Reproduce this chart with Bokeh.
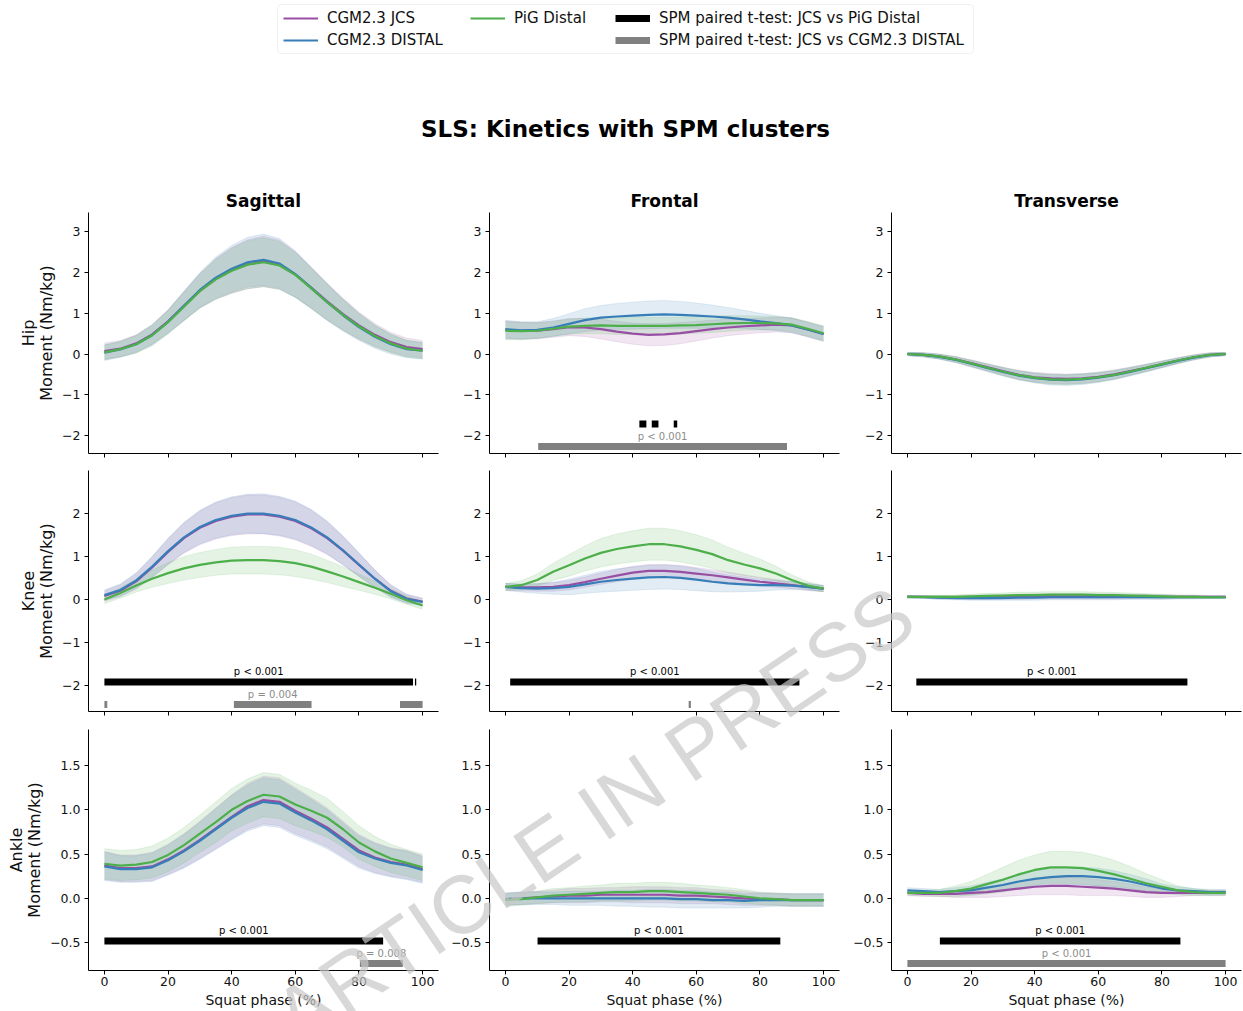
import numpy as np
from bokeh.plotting import figure
from bokeh.layouts import column, row
from bokeh.models import Legend, LegendItem, Label, FixedTicker, Range1d, ColumnDataSource, BoxAnnotation, Div
from bokeh.embed import file_html
from bokeh.resources import INLINE
from bokeh.core.properties import value

# ---------------------------------------------------------------- data
PHASE = [0, 5, 10, 15, 20, 25, 30, 35, 40, 45, 50, 55, 60, 65, 70, 75, 80, 85, 90, 95, 100]

SERIES_NAMES = ["CGM2.3 JCS", "CGM2.3 DISTAL", "PiG Distal"]
SPM_NAMES = ["SPM paired t-test: JCS vs PiG Distal", "SPM paired t-test: JCS vs CGM2.3 DISTAL"]
COLUMN_TITLES = ["Sagittal", "Frontal", "Transverse"]
ROW_LABELS = ["Hip\nMoment (Nm/kg)", "Knee\nMoment (Nm/kg)", "Ankle\nMoment (Nm/kg)"]
SUPTITLE = "SLS: Kinetics with SPM clusters"
X_LABEL = "Squat phase (%)"
X_TICKS = [0, 20, 40, 60, 80, 100]
HIP_Y_TICKS = [-2, -1, 0, 1, 2, 3]
KNEE_Y_TICKS = [-2, -1, 0, 1, 2]
ANKLE_Y_TICKS = [-0.5, 0.0, 0.5, 1.0, 1.5]
HIP_Y_LIMITS = (-2.44, 3.47)
KNEE_Y_LIMITS = (-2.60, 2.99)
ANKLE_Y_LIMITS = (-0.816, 1.907)

# Hip sagittal
HIP_SAG_JCS = [0.07, 0.13, 0.26, 0.48, 0.80, 1.18, 1.55, 1.84, 2.05, 2.20, 2.27, 2.19, 1.95, 1.63, 1.29, 0.98, 0.70, 0.47, 0.29, 0.17, 0.12]
HIP_SAG_DIS = [0.03, 0.11, 0.24, 0.46, 0.79, 1.18, 1.57, 1.87, 2.09, 2.25, 2.31, 2.22, 1.96, 1.62, 1.27, 0.95, 0.66, 0.42, 0.24, 0.12, 0.08]
HIP_SAG_PIG = [0.04, 0.12, 0.24, 0.46, 0.78, 1.16, 1.54, 1.83, 2.04, 2.19, 2.25, 2.17, 1.94, 1.61, 1.27, 0.96, 0.68, 0.44, 0.26, 0.13, 0.08]
HIP_SAG_JCS_SD = [0.20, 0.20, 0.21, 0.24, 0.28, 0.35, 0.42, 0.50, 0.56, 0.60, 0.62, 0.60, 0.56, 0.50, 0.45, 0.39, 0.33, 0.28, 0.24, 0.22, 0.21]
HIP_SAG_DIS_SD = [0.19, 0.19, 0.21, 0.24, 0.29, 0.36, 0.43, 0.51, 0.57, 0.61, 0.63, 0.61, 0.57, 0.51, 0.45, 0.39, 0.33, 0.28, 0.24, 0.21, 0.20]
HIP_SAG_PIG_SD = [0.18, 0.19, 0.22, 0.26, 0.29, 0.35, 0.42, 0.49, 0.55, 0.59, 0.60, 0.59, 0.55, 0.49, 0.44, 0.38, 0.32, 0.27, 0.23, 0.21, 0.20]

# Hip frontal
HIP_FRO_JCS = [0.59, 0.57, 0.57, 0.61, 0.66, 0.65, 0.61, 0.55, 0.50, 0.47, 0.48, 0.51, 0.56, 0.61, 0.65, 0.68, 0.70, 0.72, 0.70, 0.60, 0.49]
HIP_FRO_DIS = [0.61, 0.58, 0.59, 0.65, 0.74, 0.83, 0.89, 0.92, 0.94, 0.96, 0.97, 0.96, 0.94, 0.92, 0.89, 0.85, 0.80, 0.76, 0.70, 0.60, 0.49]
HIP_FRO_PIG = [0.57, 0.56, 0.57, 0.62, 0.67, 0.69, 0.70, 0.69, 0.69, 0.69, 0.69, 0.70, 0.71, 0.73, 0.75, 0.76, 0.76, 0.75, 0.72, 0.62, 0.51]
HIP_FRO_JCS_SD = [0.22, 0.21, 0.20, 0.20, 0.21, 0.22, 0.24, 0.25, 0.26, 0.27, 0.27, 0.26, 0.24, 0.22, 0.20, 0.19, 0.18, 0.18, 0.18, 0.18, 0.18]
HIP_FRO_DIS_SD = [0.22, 0.21, 0.20, 0.22, 0.25, 0.28, 0.30, 0.32, 0.33, 0.34, 0.34, 0.33, 0.31, 0.28, 0.25, 0.22, 0.20, 0.18, 0.18, 0.18, 0.18]
HIP_FRO_PIG_SD = [0.22, 0.21, 0.19, 0.18, 0.18, 0.19, 0.20, 0.21, 0.21, 0.21, 0.21, 0.21, 0.20, 0.20, 0.19, 0.18, 0.17, 0.17, 0.17, 0.18, 0.18]

# Hip transverse
HIP_TRA_JCS = [0.00, -0.02, -0.06, -0.13, -0.22, -0.32, -0.42, -0.51, -0.57, -0.60, -0.61, -0.60, -0.56, -0.50, -0.42, -0.34, -0.25, -0.16, -0.08, -0.02, 0.00]
HIP_TRA_DIS = [0.00, -0.02, -0.07, -0.14, -0.24, -0.34, -0.44, -0.53, -0.59, -0.63, -0.64, -0.62, -0.58, -0.52, -0.44, -0.35, -0.26, -0.17, -0.09, -0.03, 0.00]
HIP_TRA_PIG = [0.00, -0.02, -0.06, -0.13, -0.23, -0.33, -0.43, -0.52, -0.58, -0.62, -0.63, -0.61, -0.57, -0.51, -0.43, -0.34, -0.25, -0.16, -0.08, -0.02, 0.00]
HIP_TRA_JCS_SD = [0.04, 0.05, 0.06, 0.07, 0.08, 0.09, 0.10, 0.11, 0.12, 0.12, 0.12, 0.12, 0.12, 0.11, 0.10, 0.09, 0.08, 0.07, 0.06, 0.05, 0.04]
HIP_TRA_DIS_SD = [0.04, 0.05, 0.06, 0.07, 0.08, 0.09, 0.10, 0.11, 0.12, 0.13, 0.13, 0.13, 0.12, 0.11, 0.10, 0.09, 0.08, 0.07, 0.06, 0.05, 0.04]
HIP_TRA_PIG_SD = [0.04, 0.05, 0.06, 0.07, 0.08, 0.09, 0.10, 0.11, 0.11, 0.12, 0.12, 0.12, 0.11, 0.11, 0.10, 0.09, 0.08, 0.07, 0.06, 0.05, 0.04]

# Knee sagittal
KNEE_SAG_JCS = [0.08, 0.20, 0.42, 0.74, 1.10, 1.42, 1.66, 1.82, 1.92, 1.97, 1.97, 1.92, 1.82, 1.65, 1.42, 1.13, 0.80, 0.48, 0.20, 0.02, -0.05]
KNEE_SAG_DIS = [0.10, 0.22, 0.44, 0.76, 1.12, 1.44, 1.68, 1.84, 1.94, 1.99, 1.99, 1.94, 1.84, 1.67, 1.44, 1.14, 0.81, 0.48, 0.19, 0.01, -0.06]
KNEE_SAG_PIG = [0.00, 0.15, 0.32, 0.48, 0.61, 0.72, 0.80, 0.86, 0.90, 0.91, 0.91, 0.89, 0.84, 0.76, 0.65, 0.53, 0.40, 0.27, 0.13, -0.02, -0.14]
KNEE_SAG_JCS_SD = [0.12, 0.14, 0.18, 0.24, 0.30, 0.35, 0.39, 0.42, 0.44, 0.45, 0.45, 0.45, 0.44, 0.42, 0.38, 0.33, 0.27, 0.20, 0.14, 0.10, 0.08]
KNEE_SAG_DIS_SD = [0.12, 0.14, 0.18, 0.24, 0.30, 0.35, 0.39, 0.42, 0.44, 0.45, 0.46, 0.45, 0.44, 0.42, 0.38, 0.33, 0.27, 0.20, 0.14, 0.10, 0.08]
KNEE_SAG_PIG_SD = [0.10, 0.12, 0.15, 0.20, 0.24, 0.27, 0.29, 0.30, 0.31, 0.32, 0.32, 0.32, 0.31, 0.29, 0.26, 0.23, 0.19, 0.15, 0.12, 0.10, 0.09]

# Knee frontal
KNEE_FRO_JCS = [0.29, 0.28, 0.28, 0.29, 0.33, 0.40, 0.48, 0.55, 0.62, 0.66, 0.66, 0.64, 0.60, 0.56, 0.51, 0.46, 0.41, 0.37, 0.33, 0.29, 0.25]
KNEE_FRO_DIS = [0.29, 0.26, 0.25, 0.26, 0.29, 0.35, 0.41, 0.45, 0.48, 0.51, 0.52, 0.50, 0.46, 0.41, 0.37, 0.35, 0.33, 0.33, 0.32, 0.29, 0.25]
KNEE_FRO_PIG = [0.29, 0.33, 0.45, 0.64, 0.79, 0.95, 1.08, 1.17, 1.23, 1.28, 1.28, 1.23, 1.15, 1.05, 0.91, 0.81, 0.72, 0.60, 0.45, 0.32, 0.25]
KNEE_FRO_JCS_SD = [0.08, 0.08, 0.09, 0.10, 0.11, 0.12, 0.13, 0.14, 0.15, 0.15, 0.15, 0.15, 0.14, 0.13, 0.12, 0.11, 0.10, 0.09, 0.08, 0.08, 0.07]
KNEE_FRO_DIS_SD = [0.08, 0.09, 0.11, 0.14, 0.18, 0.21, 0.24, 0.26, 0.27, 0.28, 0.28, 0.27, 0.26, 0.23, 0.20, 0.17, 0.14, 0.11, 0.09, 0.08, 0.07]
KNEE_FRO_PIG_SD = [0.08, 0.10, 0.14, 0.20, 0.25, 0.29, 0.33, 0.35, 0.36, 0.37, 0.37, 0.36, 0.35, 0.33, 0.30, 0.26, 0.22, 0.17, 0.12, 0.09, 0.07]

# Knee transverse
KNEE_TRA_JCS = [0.06, 0.06, 0.05, 0.05, 0.05, 0.05, 0.06, 0.06, 0.07, 0.07, 0.07, 0.07, 0.07, 0.07, 0.07, 0.07, 0.06, 0.06, 0.06, 0.06, 0.06]
KNEE_TRA_DIS = [0.06, 0.05, 0.04, 0.03, 0.03, 0.03, 0.03, 0.04, 0.04, 0.05, 0.05, 0.05, 0.05, 0.05, 0.05, 0.05, 0.05, 0.05, 0.05, 0.05, 0.05]
KNEE_TRA_PIG = [0.06, 0.06, 0.06, 0.06, 0.07, 0.08, 0.09, 0.10, 0.10, 0.11, 0.11, 0.11, 0.10, 0.10, 0.09, 0.08, 0.07, 0.06, 0.06, 0.05, 0.05]
KNEE_TRA_JCS_SD = [0.03, 0.03, 0.04, 0.04, 0.05, 0.05, 0.05, 0.06, 0.06, 0.06, 0.06, 0.06, 0.06, 0.06, 0.05, 0.05, 0.05, 0.04, 0.04, 0.03, 0.03]
KNEE_TRA_DIS_SD = [0.03, 0.03, 0.04, 0.04, 0.05, 0.05, 0.05, 0.06, 0.06, 0.06, 0.06, 0.06, 0.06, 0.06, 0.05, 0.05, 0.05, 0.04, 0.04, 0.03, 0.03]
KNEE_TRA_PIG_SD = [0.03, 0.03, 0.04, 0.04, 0.05, 0.06, 0.06, 0.07, 0.07, 0.07, 0.07, 0.07, 0.07, 0.06, 0.06, 0.05, 0.05, 0.04, 0.04, 0.03, 0.03]

# Ankle sagittal
ANK_SAG_JCS = [0.37, 0.34, 0.34, 0.36, 0.44, 0.54, 0.66, 0.79, 0.92, 1.04, 1.11, 1.09, 0.99, 0.90, 0.80, 0.67, 0.54, 0.46, 0.41, 0.38, 0.33]
ANK_SAG_DIS = [0.36, 0.33, 0.33, 0.35, 0.43, 0.53, 0.65, 0.78, 0.91, 1.02, 1.09, 1.07, 0.97, 0.88, 0.78, 0.65, 0.52, 0.45, 0.40, 0.37, 0.32]
ANK_SAG_PIG = [0.39, 0.37, 0.38, 0.41, 0.49, 0.60, 0.73, 0.86, 1.00, 1.10, 1.17, 1.15, 1.06, 0.99, 0.91, 0.78, 0.63, 0.53, 0.45, 0.40, 0.35]
ANK_SAG_JCS_SD = [0.16, 0.15, 0.15, 0.16, 0.17, 0.19, 0.21, 0.23, 0.25, 0.26, 0.27, 0.27, 0.26, 0.24, 0.22, 0.20, 0.18, 0.17, 0.16, 0.16, 0.15]
ANK_SAG_DIS_SD = [0.16, 0.15, 0.15, 0.16, 0.17, 0.19, 0.21, 0.23, 0.25, 0.26, 0.27, 0.27, 0.26, 0.24, 0.22, 0.20, 0.18, 0.17, 0.16, 0.16, 0.15]
ANK_SAG_PIG_SD = [0.17, 0.17, 0.17, 0.18, 0.19, 0.20, 0.21, 0.23, 0.24, 0.25, 0.25, 0.25, 0.24, 0.23, 0.22, 0.20, 0.19, 0.17, 0.16, 0.15, 0.15]

# Ankle frontal
ANK_FRO_JCS = [-0.01, 0.00, 0.01, 0.02, 0.03, 0.03, 0.04, 0.04, 0.04, 0.04, 0.04, 0.03, 0.03, 0.02, 0.01, 0.00, -0.01, -0.01, -0.02, -0.02, -0.02]
ANK_FRO_DIS = [-0.01, 0.00, 0.00, 0.00, 0.00, 0.00, 0.00, 0.00, 0.00, 0.00, 0.00, -0.01, -0.01, -0.02, -0.02, -0.03, -0.02, -0.02, -0.02, -0.02, -0.02]
ANK_FRO_PIG = [-0.02, -0.01, 0.01, 0.03, 0.04, 0.05, 0.06, 0.07, 0.07, 0.08, 0.08, 0.07, 0.06, 0.05, 0.04, 0.02, 0.00, -0.01, -0.02, -0.02, -0.02]
ANK_FRO_JCS_SD = [0.07, 0.07, 0.07, 0.07, 0.08, 0.08, 0.08, 0.08, 0.09, 0.09, 0.09, 0.09, 0.09, 0.08, 0.08, 0.08, 0.07, 0.07, 0.07, 0.07, 0.07]
ANK_FRO_DIS_SD = [0.07, 0.07, 0.07, 0.07, 0.08, 0.08, 0.08, 0.09, 0.09, 0.10, 0.10, 0.10, 0.10, 0.09, 0.09, 0.08, 0.08, 0.07, 0.07, 0.07, 0.07]
ANK_FRO_PIG_SD = [0.07, 0.07, 0.07, 0.08, 0.08, 0.09, 0.09, 0.10, 0.10, 0.10, 0.10, 0.10, 0.09, 0.09, 0.08, 0.08, 0.07, 0.07, 0.07, 0.07, 0.07]

# Ankle transverse
ANK_TRA_JCS = [0.06, 0.05, 0.05, 0.05, 0.06, 0.07, 0.09, 0.11, 0.13, 0.14, 0.14, 0.13, 0.12, 0.11, 0.09, 0.07, 0.06, 0.06, 0.06, 0.06, 0.06]
ANK_TRA_DIS = [0.09, 0.08, 0.07, 0.08, 0.09, 0.12, 0.15, 0.19, 0.22, 0.24, 0.25, 0.25, 0.24, 0.22, 0.19, 0.15, 0.11, 0.09, 0.08, 0.07, 0.07]
ANK_TRA_PIG = [0.06, 0.06, 0.06, 0.08, 0.11, 0.16, 0.21, 0.27, 0.32, 0.35, 0.35, 0.34, 0.31, 0.27, 0.22, 0.17, 0.13, 0.09, 0.07, 0.06, 0.06]
ANK_TRA_JCS_SD = [0.03, 0.03, 0.03, 0.04, 0.05, 0.06, 0.07, 0.08, 0.09, 0.10, 0.10, 0.10, 0.09, 0.08, 0.07, 0.06, 0.05, 0.04, 0.03, 0.03, 0.03]
ANK_TRA_DIS_SD = [0.03, 0.03, 0.03, 0.04, 0.05, 0.06, 0.07, 0.08, 0.09, 0.10, 0.10, 0.10, 0.10, 0.09, 0.08, 0.07, 0.05, 0.04, 0.03, 0.03, 0.03]
ANK_TRA_PIG_SD = [0.03, 0.03, 0.04, 0.06, 0.08, 0.11, 0.14, 0.16, 0.17, 0.18, 0.18, 0.18, 0.17, 0.16, 0.14, 0.11, 0.08, 0.05, 0.04, 0.03, 0.03]

# SPM clusters (start %, end %) ; label = (text, index of labelled cluster)
HIP_SAG_BLACK, HIP_SAG_BLACK_P = [], None
HIP_SAG_GRAY, HIP_SAG_GRAY_P = [], None
HIP_FRO_BLACK, HIP_FRO_BLACK_P = [(42.1, 44.3), (46.0, 48.1), (52.9, 54.0)], None
HIP_FRO_GRAY, HIP_FRO_GRAY_P = [(10.3, 88.5)], ("p < 0.001", 0)
HIP_TRA_BLACK, HIP_TRA_BLACK_P = [], None
HIP_TRA_GRAY, HIP_TRA_GRAY_P = [], None
KNEE_SAG_BLACK, KNEE_SAG_BLACK_P = [(0.0, 97.0), (97.6, 98.0)], ("p < 0.001", 0)
KNEE_SAG_GRAY, KNEE_SAG_GRAY_P = [(0.0, 0.9), (40.7, 65.1), (92.9, 100.0)], ("p = 0.004", 1)
KNEE_FRO_BLACK, KNEE_FRO_BLACK_P = [(1.5, 92.4)], ("p < 0.001", 0)
KNEE_FRO_GRAY, KNEE_FRO_GRAY_P = [(57.6, 58.3)], None
KNEE_TRA_BLACK, KNEE_TRA_BLACK_P = [(2.8, 88.0)], ("p < 0.001", 0)
KNEE_TRA_GRAY, KNEE_TRA_GRAY_P = [], None
ANK_SAG_BLACK, ANK_SAG_BLACK_P = [(0.0, 87.6)], ("p < 0.001", 0)
ANK_SAG_GRAY, ANK_SAG_GRAY_P = [(80.3, 93.8)], ("p = 0.008", 0)
ANK_FRO_BLACK, ANK_FRO_BLACK_P = [(10.1, 86.4)], ("p < 0.001", 0)
ANK_FRO_GRAY, ANK_FRO_GRAY_P = [], None
ANK_TRA_BLACK, ANK_TRA_BLACK_P = [(10.2, 85.8)], ("p < 0.001", 0)
ANK_TRA_GRAY, ANK_TRA_GRAY_P = [(0.0, 100.0)], ("p < 0.001", 0)

WATERMARK = "ARTICLE IN PRESS"

# ---------------------------------------------------------------- style / layout
COLORS = ["#984ea3", "#377eb8", "#4daf4a"]
SPM_COLORS = ["#000000", "#808080"]
FONT = "DejaVu Sans"

FRAME_W, FRAME_H = 350, 241
COL_BL = [88, 43, 43]
COL_BR = [8, 9, 2]
ROW_BT = [32, 9, 9]
ROW_BB = [8, 9, 40]
HEADER_H = 180
PAGE_W = 1243

panels = [
    [(HIP_SAG_JCS, HIP_SAG_DIS, HIP_SAG_PIG), (HIP_SAG_JCS_SD, HIP_SAG_DIS_SD, HIP_SAG_PIG_SD), HIP_SAG_BLACK, HIP_SAG_BLACK_P, HIP_SAG_GRAY, HIP_SAG_GRAY_P],
    [(HIP_FRO_JCS, HIP_FRO_DIS, HIP_FRO_PIG), (HIP_FRO_JCS_SD, HIP_FRO_DIS_SD, HIP_FRO_PIG_SD), HIP_FRO_BLACK, HIP_FRO_BLACK_P, HIP_FRO_GRAY, HIP_FRO_GRAY_P],
    [(HIP_TRA_JCS, HIP_TRA_DIS, HIP_TRA_PIG), (HIP_TRA_JCS_SD, HIP_TRA_DIS_SD, HIP_TRA_PIG_SD), HIP_TRA_BLACK, HIP_TRA_BLACK_P, HIP_TRA_GRAY, HIP_TRA_GRAY_P],
    [(KNEE_SAG_JCS, KNEE_SAG_DIS, KNEE_SAG_PIG), (KNEE_SAG_JCS_SD, KNEE_SAG_DIS_SD, KNEE_SAG_PIG_SD), KNEE_SAG_BLACK, KNEE_SAG_BLACK_P, KNEE_SAG_GRAY, KNEE_SAG_GRAY_P],
    [(KNEE_FRO_JCS, KNEE_FRO_DIS, KNEE_FRO_PIG), (KNEE_FRO_JCS_SD, KNEE_FRO_DIS_SD, KNEE_FRO_PIG_SD), KNEE_FRO_BLACK, KNEE_FRO_BLACK_P, KNEE_FRO_GRAY, KNEE_FRO_GRAY_P],
    [(KNEE_TRA_JCS, KNEE_TRA_DIS, KNEE_TRA_PIG), (KNEE_TRA_JCS_SD, KNEE_TRA_DIS_SD, KNEE_TRA_PIG_SD), KNEE_TRA_BLACK, KNEE_TRA_BLACK_P, KNEE_TRA_GRAY, KNEE_TRA_GRAY_P],
    [(ANK_SAG_JCS, ANK_SAG_DIS, ANK_SAG_PIG), (ANK_SAG_JCS_SD, ANK_SAG_DIS_SD, ANK_SAG_PIG_SD), ANK_SAG_BLACK, ANK_SAG_BLACK_P, ANK_SAG_GRAY, ANK_SAG_GRAY_P],
    [(ANK_FRO_JCS, ANK_FRO_DIS, ANK_FRO_PIG), (ANK_FRO_JCS_SD, ANK_FRO_DIS_SD, ANK_FRO_PIG_SD), ANK_FRO_BLACK, ANK_FRO_BLACK_P, ANK_FRO_GRAY, ANK_FRO_GRAY_P],
    [(ANK_TRA_JCS, ANK_TRA_DIS, ANK_TRA_PIG), (ANK_TRA_JCS_SD, ANK_TRA_DIS_SD, ANK_TRA_PIG_SD), ANK_TRA_BLACK, ANK_TRA_BLACK_P, ANK_TRA_GRAY, ANK_TRA_GRAY_P],
]
ROW_TICKS = [HIP_Y_TICKS, KNEE_Y_TICKS, ANKLE_Y_TICKS]
ROW_LIMITS = [HIP_Y_LIMITS, KNEE_Y_LIMITS, ANKLE_Y_LIMITS]


def tick_text(t, decimals):
    s = f"{t:.{decimals}f}"
    return s.replace("-", "\u2212")


def style_axis(ax):
    ax.axis_line_color = "black"
    ax.major_tick_line_color = "black"
    ax.major_tick_out = 4
    ax.major_tick_in = 0
    ax.minor_tick_line_color = None
    ax.major_label_text_font = FONT
    ax.major_label_text_color = "#111111"
    ax.major_label_text_font_size = "12.5px"
    ax.axis_label_text_font = FONT
    ax.axis_label_text_font_style = "normal"
    ax.axis_label_text_color = "#111111"


def make_panel(r, c):
    means, sds, black, black_p, gray, gray_p = panels[r * 3 + c]
    ylo, yhi = ROW_LIMITS[r]
    p = figure(width=COL_BL[c] + FRAME_W + COL_BR[c], height=ROW_BT[r] + FRAME_H + ROW_BB[r],
               min_border_left=COL_BL[c], min_border_right=COL_BR[c],
               min_border_top=ROW_BT[r], min_border_bottom=ROW_BB[r],
               x_range=Range1d(-5, 105), y_range=Range1d(ylo, yhi),
               toolbar_location=None, output_backend="svg")
    p.outline_line_color = None
    p.grid.visible = False
    x = np.array(PHASE, dtype=float)
    for k in range(3):
        m = np.array(means[k]); s = np.array(sds[k])
        p.varea(x=x, y1=m - s, y2=m + s, fill_color=COLORS[k], fill_alpha=0.15)
        p.line(x=x, y=m - s, line_color=COLORS[k], line_alpha=0.12, line_width=1)
        p.line(x=x, y=m + s, line_color=COLORS[k], line_alpha=0.12, line_width=1)
    for k in range(3):
        p.line(x=PHASE, y=means[k], line_color=COLORS[k], line_width=2.2)

    rng = yhi - ylo
    bar_y = [ylo + rng * 29.5 / FRAME_H, ylo + rng * 7.0 / FRAME_H]
    for j, (clusters, plab) in enumerate([(black, black_p), (gray, gray_p)]):
        if clusters:
            src = ColumnDataSource(dict(x0=[a for a, b in clusters], x1=[b for a, b in clusters],
                                        y=[bar_y[j]] * len(clusters)))
            p.segment(x0="x0", x1="x1", y0="y", y1="y", source=src, line_width=7,
                      line_color=SPM_COLORS[j], line_cap="butt")
        if plab:
            a, b = clusters[plab[1]]
            p.text(x=[(a + b) / 2], y=[bar_y[j]], text=[plab[0]], text_align="center",
                   text_baseline="bottom", y_offset=-5, text_font=value(FONT), text_font_size="10px",
                   text_color="#000000" if j == 0 else "#8c8c8c")

    xa = p.xaxis[0]
    ya = p.yaxis[0]
    style_axis(xa)
    style_axis(ya)
    if r == 2:
        xa.ticker = FixedTicker(ticks=X_TICKS)
        xa.major_label_standoff = 2
        xa.axis_label = X_LABEL
        xa.axis_label_text_font_size = "14px"
        xa.axis_label_standoff = 3
    else:
        # tick marks only (no labels), as on a shared x axis
        xa.ticker = FixedTicker(ticks=[], minor_ticks=X_TICKS)
        xa.minor_tick_line_color = "black"
        xa.minor_tick_out = 4
        xa.minor_tick_in = 0
    ticks = ROW_TICKS[r]
    dec = 1 if r == 2 else 0
    ya.ticker = FixedTicker(ticks=ticks)
    ya.major_label_overrides = {t: tick_text(t, dec) for t in ticks}
    ya.major_label_standoff = 4
    if c == 0:
        ya.axis_label = ROW_LABELS[r]
        ya.axis_label_text_font_size = "16px"
        ya.axis_label_text_line_height = 0.95
        ya.axis_label_standoff = 3
    if r == 0:
        p.title.text = COLUMN_TITLES[c]
        p.title.align = "center"
        p.title.text_font = FONT
        p.title.text_font_size = "17px"
        p.title.text_font_style = "bold"
        p.title.text_color = "#000000"
        p.title.standoff = 3
    return p


# header (legend + suptitle)
h = figure(width=PAGE_W, height=HEADER_H, min_border=0, toolbar_location=None, output_backend="svg",
           x_range=Range1d(0, 1), y_range=Range1d(0, 1))
h.axis.visible = False
h.grid.visible = False
h.outline_line_color = None
h.add_layout(BoxAnnotation(left=277, right=973, top=HEADER_H - 4, bottom=HEADER_H - 53,
                           left_units="screen", right_units="screen", top_units="screen",
                           bottom_units="screen", fill_color="white", fill_alpha=1.0,
                           line_color="#cccccc", line_width=1, border_radius=4))
# off-range dummy renderers (only for the legend swatches)
r_series = [h.line(x=[-3, -2], y=[-3, -2], line_color=COLORS[k], line_width=2.2) for k in range(3)]
r_spm = [h.line(x=[-3, -2], y=[-3, -2], line_color=SPM_COLORS[j], line_width=7, line_cap="butt")
         for j in range(2)]
legend_cols = [
    ([SERIES_NAMES[0], SERIES_NAMES[1]], [r_series[0], r_series[1]], 283),
    ([SERIES_NAMES[2]], [r_series[2]], 470),
    ([SPM_NAMES[0], SPM_NAMES[1]], [r_spm[0], r_spm[1]], 615),
]
for labels, rends, lx in legend_cols:
    its = [LegendItem(label=lb, renderers=[rr]) for lb, rr in zip(labels, rends)]
    n = len(its)
    leg_h = n * 18 + (n - 1) * 4
    leg = Legend(items=its, orientation="vertical", location=(lx, HEADER_H - 9 - leg_h),
                 label_text_font=FONT, label_text_font_size="15px", label_text_color="#111111",
                 glyph_width=35, glyph_height=18, label_height=18, label_standoff=9, spacing=4,
                 padding=0, margin=0, border_line_color=None, background_fill_alpha=0.0)
    h.add_layout(leg, "center")
h.add_layout(Label(x=625, y=HEADER_H - 128, x_units="screen", y_units="screen", text=SUPTITLE,
                   text_align="center", text_baseline="middle", text_font=FONT,
                   text_font_size="23px", text_font_style="bold", text_color="#000000"))

rows = [row(*[make_panel(r, c) for c in range(3)]) for r in range(3)]

wm_html = ('<div style="position:absolute; left:589px; top:811px; '
           'transform: translate(-50%, -50%) rotate(-34deg); white-space:nowrap; '
           'font-family: \'Liberation Sans\', Arial, sans-serif; font-size:82px; line-height:1; '
           'color: rgba(200,200,200,0.7); pointer-events:none;">' + WATERMARK + '</div>')
wm = Div(text=wm_html, width=1, height=1,
         styles={"position": "absolute", "left": "0px", "top": "0px", "z-index": "10",
                 "overflow": "visible", "pointer-events": "none"})

layout = column(h, *rows, wm)

open("out.html", "w").write(file_html(layout, INLINE))
